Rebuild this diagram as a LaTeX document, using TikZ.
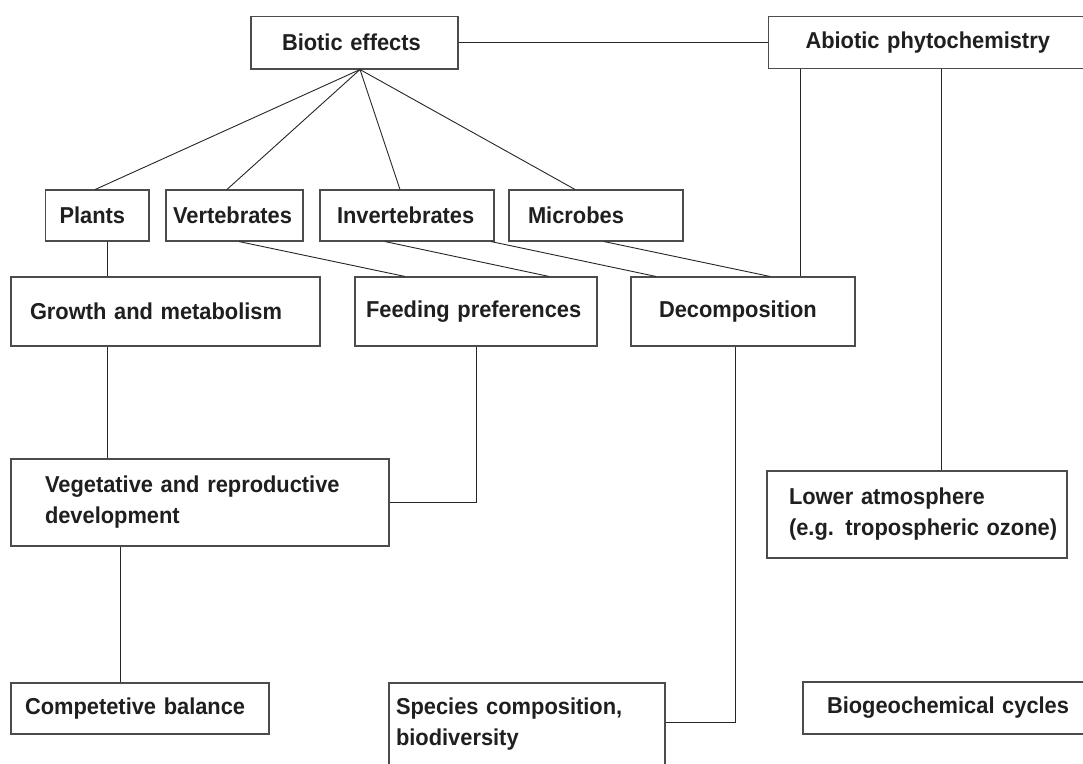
\documentclass[tikz,border=0pt]{standalone}
\usepackage{fontspec}
\setmainfont{Liberation Sans}
\newfontfamily\heavyfont{Liberation Sans Bold}[FakeStretch=0.95]
\usetikzlibrary{calc}
\tikzset{
  box/.style={draw=black!70, line width=1.1pt, rectangle, inner ysep=0pt, inner xsep=0pt,
    align=left, font={\heavyfont\fontsize{23}{31}\selectfont}, text=black!88},
  link/.style={draw=black!85, line width=0.9pt}
}
\newcommand{\mkbox}[7]{% name, x1, y1, x2, y2, pad, text
  \node[box, minimum width={(#4)-(#2)}, minimum height={(#5)-(#3)},
        text width={(#4)-(#2)}]
        (#1) at ({((#2)+(#4))/2},{((#3)+(#5))/2}) {\hspace*{#6pt}#7};}
\begin{document}
\begin{tikzpicture}[x=1pt,y=-1pt]
\fill[white] (0,0) rectangle (1083,763);
\useasboundingbox (0,0) rectangle (1083,763);

\mkbox{biotic}{251}{16.5}{458}{69}{31}{Biotic effects}
\mkbox{abiotic}{768.5}{16.5}{1095}{68.5}{37}{Abiotic phytochemistry}
\mkbox{plants}{45.5}{190}{149}{241}{14}{Plants}
\mkbox{vert}{166}{190}{303}{241}{7}{Vertebrates}
\mkbox{invert}{320}{190}{494}{241}{17}{Invertebrates}
\mkbox{microbes}{509}{190}{683}{241}{19}{Microbes}
\mkbox{growth}{11}{277}{320}{346}{19}{Growth and metabolism}
\mkbox{feeding}{355}{277}{597}{346}{11}{Feeding preferences}
\mkbox{decomp}{631}{277}{855}{346}{28}{Decomposition}
\mkbox{veg}{11}{459}{389}{546}{34}{Vegetative and reproductive\\\hspace*{34pt}development}
\mkbox{lower}{767}{471}{1067}{558}{22}{Lower atmosphere\\\hspace*{22pt}(e.g. tropospheric ozone)}
\mkbox{comp}{11}{683}{269}{734}{14}{Competetive balance}
\mkbox{species}{389}{683}{665}{765}{7}{Species composition,\\\hspace*{7pt}biodiversity}
\mkbox{biogeo}{803}{682}{1095}{734}{24}{Biogeochemical cycles}

\coordinate (apex) at ([xshift=5.5pt]biotic.south);
\draw[link] (biotic.east) -- (biotic.east -| abiotic.west);
\draw[link] (apex) -- ([xshift=-2pt]plants.north);
\draw[link] (apex) -- ([xshift=-7.5pt]vert.north);
\draw[link] (apex) -- ([xshift=-7pt]invert.north);
\draw[link] (apex) -- ([xshift=-21pt]microbes.north);

\draw[link] ([xshift=10pt]plants.south) -- ([xshift=10pt]plants.south |- growth.north);
\draw[link] ([xshift=4.5pt]vert.south) -- ([xshift=-71pt]feeding.north);
\draw[link] ([xshift=-22pt]invert.south) -- ([xshift=73pt]feeding.north);
\draw[link] ([xshift=84pt]invert.south) -- ([xshift=-87pt]decomp.north);
\draw[link] ([xshift=8pt]microbes.south) -- ([xshift=27pt]decomp.north);
\draw[link] ([xshift=-131.75pt]abiotic.south) -- ([xshift=-131.75pt]abiotic.south |- decomp.north);
\draw[link] ([xshift=24pt]lower.north |- abiotic.south) -- ([xshift=24pt]lower.north);

\draw[link] ([xshift=-58.5pt]growth.south) -- ([xshift=-58.5pt]growth.south |- veg.north);
\draw[link] (feeding.south) |- (veg.east);
\draw[link] ([xshift=-80pt]veg.south) -- ([xshift=-80pt]veg.south |- comp.north);
\draw[link] ([xshift=-8pt]decomp.south) |- (species.east |- 0,722);
\end{tikzpicture}
\end{document}
